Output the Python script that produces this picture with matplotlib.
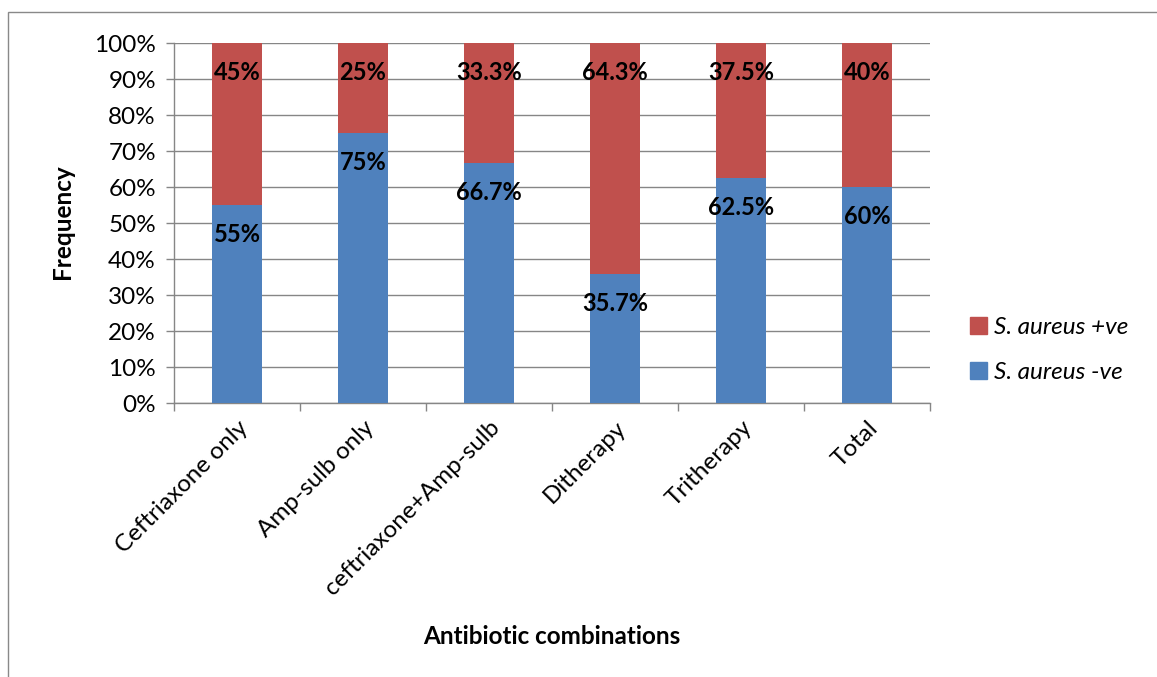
import matplotlib
matplotlib.use("Agg")
import matplotlib.pyplot as plt
from matplotlib.patches import Rectangle, Patch
from matplotlib.ticker import PercentFormatter, FixedLocator
import numpy as np

categories = ["Ceftriaxone only", "Amp-sulb only", "ceftriaxone+Amp-sulb",
              "Ditherapy", "Tritherapy", "Total"]
neg_vals = [55, 75, 66.7, 35.7, 62.5, 60]
pos_vals = [45, 25, 33.3, 64.3, 37.5, 40]
neg_labels = ["55%", "75%", "66.7%", "35.7%", "62.5%", "60%"]
pos_labels = ["45%", "25%", "33.3%", "64.3%", "37.5%", "40%"]

RED = "#C0504D"
BLUE = "#4F81BD"
GRID = "#868686"
FS = 17.5

plt.rcParams["font.family"] = ["Lato", "DejaVu Sans"]

W, H = 1157, 677
fig = plt.figure(figsize=(W / 100, H / 100), dpi=100)
ax = fig.add_axes([174 / W, 1 - 403 / H, (930 - 174) / W, 360 / H])

# chart frame
fig.patches.append(Rectangle((8 / W, -0.05), 1.1, 1 - 12 / H + 0.05,
                             transform=fig.transFigure, fill=False,
                             edgecolor="#898989", linewidth=1.0))

x = np.arange(len(categories))
bw = 0.40
ax.bar(x, neg_vals, bw, color=BLUE, zorder=3)
ax.bar(x, pos_vals, bw, bottom=neg_vals, color=RED, zorder=3)

off = -21  # points below segment top
for i in range(len(categories)):
    ax.annotate(neg_labels[i], (x[i], neg_vals[i]), xytext=(0, off),
                textcoords="offset points", ha="center", va="center",
                fontsize=17, fontweight="bold", zorder=4)
    ax.annotate(pos_labels[i], (x[i], 100), xytext=(0, off),
                textcoords="offset points", ha="center", va="center",
                fontsize=17, fontweight="bold", zorder=4)

ax.set_xlim(-0.5, len(categories) - 0.5)
ax.set_ylim(0, 100)
ax.yaxis.set_major_locator(FixedLocator(np.arange(0, 101, 10)))
ax.yaxis.set_major_formatter(PercentFormatter(decimals=0))
ax.grid(axis="y", color=GRID, linewidth=1.0, zorder=0)
ax.set_axisbelow(True)

ax.set_xticks(x)
ax.set_xticklabels(categories, rotation=45, ha="right", rotation_mode="anchor",
                   fontsize=FS)
ax.xaxis.set_minor_locator(FixedLocator(np.arange(-0.5, len(categories), 1)))
ax.tick_params(axis="x", which="major", length=0, pad=10)
ax.tick_params(axis="x", which="minor", length=6, color=GRID, width=1)
ax.tick_params(axis="y", length=6, color=GRID, width=1, labelsize=FS, pad=7)

for s in ["top", "right"]:
    ax.spines[s].set_visible(False)
for s in ["left", "bottom"]:
    ax.spines[s].set_color(GRID)
    ax.spines[s].set_linewidth(1.0)

fig.text(62 / W, 1 - 222 / H, "Frequency", rotation=90, ha="center",
         va="center", fontsize=FS, fontweight="bold")
fig.text(552 / W, 1 - 636 / H, "Antibiotic combinations", ha="center",
         va="center", fontsize=FS, fontweight="bold")

handles = [Patch(color=RED, label="S. aureus +ve"),
           Patch(color=BLUE, label="S. aureus -ve")]
leg = fig.legend(handles=handles, loc="center left",
                 bbox_to_anchor=(948 / W, 1 - 350 / H), frameon=False,
                 prop={"size": FS, "style": "italic"}, handlelength=0.7,
                 handleheight=0.7, handletextpad=0.3, labelspacing=1.0)

fig.savefig("out.png", dpi=100)
